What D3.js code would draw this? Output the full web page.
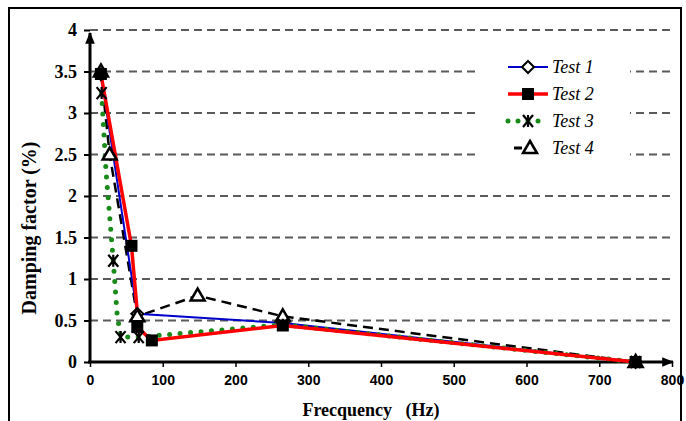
<!DOCTYPE html>
<html>
<head>
<meta charset="utf-8">
<script src="https://cdn.jsdelivr.net/npm/d3@7"></script>
<style>
  body { margin: 0; background: #fff; }
  .serif { font-family: "Liberation Serif", "Times New Roman", Times, "DejaVu Serif", serif; }
  .narrow { font-family: "Liberation Sans Narrow", "Arial Narrow", "Liberation Sans", Arial, sans-serif; }
</style>
</head>
<body>
<div id="chart"></div>
<script>
// Data (frequency in Hz, damping factor in %)
var test1 = [[15, 3.47], [65, 0.58], [265, 0.47], [750, 0]];
var test2 = [[15, 3.47], [57, 1.4], [65, 0.6], [65, 0.42], [85, 0.26], [265, 0.44], [750, 0]];
var test3 = [[16, 3.24], [22, 2.3], [32, 1.22], [37, 0.6], [42, 0.3], [67, 0.3], [265, 0.45], [750, 0]];
var test4 = [[15, 3.5], [27, 2.5], [65, 0.55], [148, 0.8], [265, 0.55], [750, 0]];
var xTicks = [0, 100, 200, 300, 400, 500, 600, 700, 800];
var yTicks = [0, 0.5, 1, 1.5, 2, 2.5, 3, 3.5, 4];
var legendNames = ['Test 1', 'Test 2', 'Test 3', 'Test 4'];

var width = 686, height = 421;
var svg = d3.select('#chart').append('svg')
  .attr('width', width).attr('height', height);

// outer frame
svg.append('rect')
  .attr('x', 9).attr('y', 8).attr('width', 672).attr('height', 430)
  .attr('fill', 'none').attr('stroke', '#000').attr('stroke-width', 2);

var x = d3.scaleLinear().domain([0, 800]).range([90, 672]);
var y = d3.scaleLinear().domain([0, 4]).range([362, 30]);

// dashed grid
svg.selectAll('line.grid')
  .data(yTicks.filter(function(d){ return d > 0; }))
  .enter().append('line')
  .attr('class', 'grid')
  .attr('x1', x(0)).attr('x2', 673)
  .attr('y1', function(d){ return y(d); })
  .attr('y2', function(d){ return y(d); })
  .attr('stroke', '#5a5a5a').attr('stroke-width', 1.8)
  .attr('stroke-dasharray', '8,5');

// y axis
var yAxis = d3.axisLeft(y).tickValues(yTicks).tickSize(6).tickFormat(d3.format('~g'));
var gy = svg.append('g').attr('transform', 'translate(' + x(0) + ',0)').call(yAxis);
gy.attr('font-family', null).attr('font-size', null);
gy.select('.domain').remove();
gy.selectAll('.tick line').attr('stroke-width', 2);
gy.selectAll('.tick text')
  .attr('x', -13)
  .attr('class', 'serif')
  .style('font-weight', 'bold').style('font-size', '18px');

// x axis
var xAxis = d3.axisBottom(x).tickValues(xTicks).tickSize(5);
var gx = svg.append('g').attr('transform', 'translate(0,' + y(0) + ')').call(xAxis);
gx.attr('font-family', null).attr('font-size', null);
gx.select('.domain').remove();
gx.selectAll('.tick line').attr('stroke-width', 1.5);
gx.selectAll('.tick text')
  .attr('y', 13)
  .attr('class', 'narrow')
  .style('font-weight', 'bold').style('font-size', '14px');

// axis lines with arrows
svg.append('defs').append('marker')
  .attr('id', 'arrow').attr('viewBox', '0 0 10 10')
  .attr('refX', 9).attr('refY', 5)
  .attr('markerWidth', 4).attr('markerHeight', 4)
  .attr('markerUnits', 'strokeWidth').attr('orient', 'auto')
  .append('path').attr('d', 'M0,1 L10,5 L0,9 Z').attr('fill', '#000');

svg.append('line')
  .attr('x1', x(0)).attr('y1', y(0)).attr('x2', x(0)).attr('y2', 33)
  .attr('stroke', '#000').attr('stroke-width', 3).attr('marker-end', 'url(#arrow)');
svg.append('line')
  .attr('x1', x(0) - 2).attr('y1', y(0)).attr('x2', 673).attr('y2', y(0))
  .attr('stroke', '#000').attr('stroke-width', 3).attr('marker-end', 'url(#arrow)');

// axis titles
svg.append('text')
  .attr('class', 'serif')
  .attr('transform', 'translate(36,' + 228 + ') rotate(-90)')
  .attr('text-anchor', 'middle')
  .style('font-weight', 'bold').style('font-size', '20px')
  .text('Damping factor (%)');
svg.append('text')
  .attr('class', 'serif')
  .attr('x', 371).attr('y', 416)
  .attr('text-anchor', 'middle')
  .style('white-space', 'pre')
  .style('font-weight', 'bold').style('font-size', '18px')
  .text('Frecquency   (Hz)');

var line = d3.line()
  .x(function(d){ return x(d[0]); })
  .y(function(d){ return y(d[1]); });

// marker drawing helpers
function diamond(g, px, py) {
  g.append('path')
    .attr('d', 'M' + px + ',' + (py - 6) + 'L' + (px + 6) + ',' + py + 'L' + px + ',' + (py + 6) + 'L' + (px - 6) + ',' + py + 'Z')
    .attr('fill', '#fff').attr('stroke', '#000').attr('stroke-width', 2);
}
function square(g, px, py) {
  g.append('rect').attr('x', px - 6).attr('y', py - 6).attr('width', 12).attr('height', 12)
    .attr('fill', '#000');
}
function star(g, px, py) {
  var p = 'M' + (px - 5) + ',' + (py - 6) + 'L' + (px + 5) + ',' + (py + 6) +
          'M' + (px + 5) + ',' + (py - 6) + 'L' + (px - 5) + ',' + (py + 6) +
          'M' + px + ',' + (py - 6) + 'L' + px + ',' + (py + 6);
  g.append('path').attr('d', p).attr('stroke', '#000').attr('stroke-width', 2.2).attr('fill', 'none');
}
function triangle(g, px, py) {
  g.append('path')
    .attr('d', 'M' + px + ',' + (py - 7) + 'L' + (px + 7) + ',' + (py + 5) + 'L' + (px - 7) + ',' + (py + 5) + 'Z')
    .attr('fill', '#fff').attr('stroke', '#000').attr('stroke-width', 2.5);
}

var plot = svg.append('g');

// Test 4 - black dashed
plot.append('path').datum(test4).attr('d', line)
  .attr('fill', 'none').attr('stroke', '#000').attr('stroke-width', 2.5)
  .attr('stroke-dasharray', '10,6');
// Test 1 - blue
plot.append('path').datum(test1).attr('d', line)
  .attr('fill', 'none').attr('stroke', '#0000cc').attr('stroke-width', 2);
// Test 3 - green dotted
plot.append('path').datum(test3).attr('d', line)
  .attr('fill', 'none').attr('stroke', '#1a8a1a').attr('stroke-width', 5)
  .attr('stroke-linecap', 'round').attr('stroke-dasharray', '0,10.5');
// Test 2 - red
plot.append('path').datum(test2).attr('d', line)
  .attr('fill', 'none').attr('stroke', '#ff0000').attr('stroke-width', 3.5);

test1.forEach(function(d){ diamond(plot, x(d[0]), y(d[1])); });
test4.forEach(function(d){ triangle(plot, x(d[0]), y(d[1])); });
test3.filter(function(d, i){ return i !== 1 && i !== 3; })
  .forEach(function(d){ star(plot, x(d[0]), y(d[1])); });
test2.filter(function(d, i){ return i !== 2; })
  .forEach(function(d){ square(plot, x(d[0]), y(d[1])); });

// legend
var legend = svg.append('g');
legend.append('rect').attr('x', 478).attr('y', 52).attr('width', 152).attr('height', 112).attr('fill', '#fff');
var rowsY = [67, 94, 121, 148];
legendNames.forEach(function(name, i) {
  var ly = rowsY[i];
  if (i === 0) {
    legend.append('line').attr('x1', 508).attr('x2', 548).attr('y1', ly).attr('y2', ly)
      .attr('stroke', '#0000cc').attr('stroke-width', 2);
    diamond(legend, 528, ly);
  } else if (i === 1) {
    legend.append('line').attr('x1', 508).attr('x2', 548).attr('y1', ly).attr('y2', ly)
      .attr('stroke', '#ff0000').attr('stroke-width', 3.5);
    square(legend, 528, ly);
  } else if (i === 2) {
    legend.append('line').attr('x1', 508).attr('x2', 548).attr('y1', ly).attr('y2', ly)
      .attr('stroke', '#1a8a1a').attr('stroke-width', 5)
      .attr('stroke-linecap', 'round').attr('stroke-dasharray', '0,10');
    star(legend, 528, ly);
  } else {
    legend.append('line').attr('x1', 514).attr('x2', 522).attr('y1', ly).attr('y2', ly)
      .attr('stroke', '#000').attr('stroke-width', 3);
    triangle(legend, 530, ly);
  }
  legend.append('text').attr('x', 552).attr('y', ly + 6)
    .attr('class', 'serif')
    .style('font-style', 'italic').style('font-size', '18px')
    .text(name);
});
</script>
</body>
</html>
